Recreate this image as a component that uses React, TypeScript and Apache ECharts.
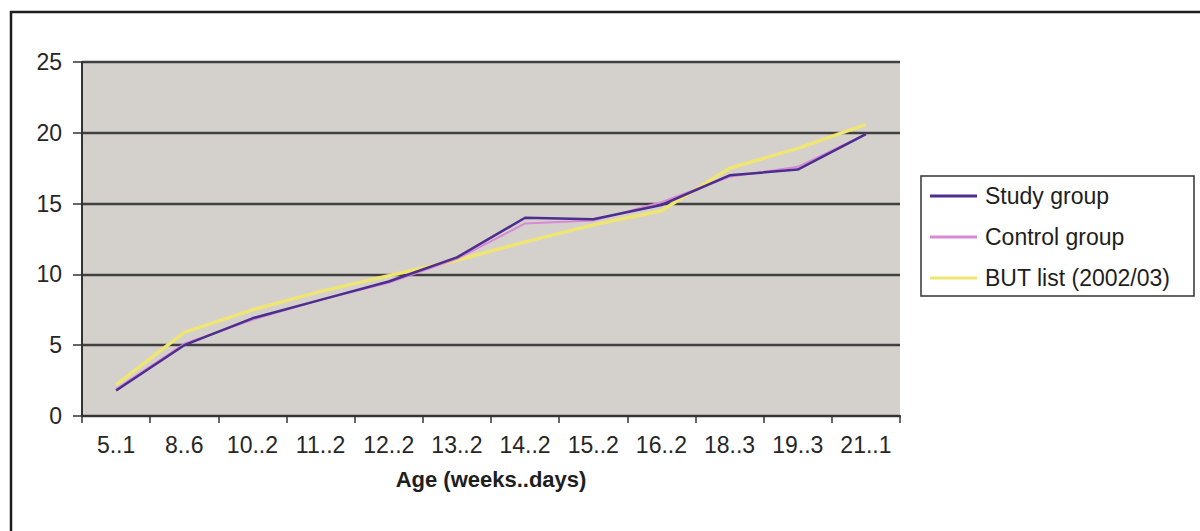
import React, { useEffect, useRef } from "react";
import * as echarts from "echarts";

// Age categories (weeks..days)
const ageLabels = [
  "5..1", "8..6", "10..2", "11..2", "12..2", "13..2",
  "14..2", "15..2", "16..2", "18..3", "19..3", "21..1",
];

const studyGroup = [1.8, 5.0, 6.9, 8.2, 9.5, 11.2, 14.0, 13.9, 14.9, 17.0, 17.4, 19.9];
const controlGroup = [1.9, 5.1, 6.8, 8.2, 9.4, 11.1, 13.6, 13.8, 15.1, 16.9, 17.6, 19.9];
const butList = [2.2, 5.9, 7.5, 8.8, 9.9, 11.0, 12.3, 13.5, 14.5, 17.5, 18.9, 20.6];

const seriesNames = ["Study group", "Control group", "BUT list (2002/03)"];
const yTicks = { min: 0, max: 25, interval: 5 };

const FONT = "'Liberation Sans', Arial, sans-serif";

export default function App() {
  const ref = useRef<HTMLDivElement>(null);

  useEffect(() => {
    if (!ref.current) return;
    const chart = echarts.init(ref.current, undefined, { renderer: "svg" });
    chart.setOption({
      animation: false,
      backgroundColor: "#ffffff",
      textStyle: { fontFamily: FONT },
      grid: {
        left: 82,
        right: 300,
        top: 62,
        bottom: 115,
        show: true,
        backgroundColor: "#d4d1cd",
        borderWidth: 0,
      },
      legend: {
        orient: "vertical",
        left: 930,
        top: 184,
        padding: 0,
        itemWidth: 47,
        itemHeight: 3,
        itemGap: 17,
        icon: "rect",
        textStyle: { fontFamily: FONT, fontSize: 23, color: "#1e1e1e", lineHeight: 24, padding: [0, 0, 0, 3] },
        data: seriesNames,
      },
      xAxis: {
        type: "category",
        data: ageLabels,
        boundaryGap: true,
        name: "Age (weeks..days)",
        nameLocation: "middle",
        nameGap: 52,
        nameTextStyle: { fontFamily: FONT, fontSize: 22, fontWeight: "bold", color: "#1e1e1e" },
        axisLine: { show: true, lineStyle: { color: "#333", width: 2 } },
        axisTick: { show: true, length: 7, lineStyle: { color: "#333", width: 1.5 } },
        axisLabel: { fontFamily: FONT, fontSize: 23, color: "#262626", margin: 17, interval: 0 },
        splitLine: { show: false },
      },
      yAxis: {
        type: "value",
        min: yTicks.min,
        max: yTicks.max,
        interval: yTicks.interval,
        axisLine: { show: true, lineStyle: { color: "#333", width: 2 } },
        axisTick: { show: true, length: 9, lineStyle: { color: "#333", width: 1.5 } },
        axisLabel: { fontFamily: FONT, fontSize: 23, color: "#262626", margin: 20 },
        splitLine: { show: true, lineStyle: { color: "#404040", width: 2.4 } },
      },
      series: [
        {
          name: seriesNames[0],
          type: "line",
          data: studyGroup,
          showSymbol: false,
          symbol: "none",
          z: 4,
          color: "#4b2e8e",
          lineStyle: { color: "#4b2e8e", width: 2.5 },
        },
        {
          name: seriesNames[1],
          type: "line",
          data: controlGroup,
          showSymbol: false,
          symbol: "none",
          z: 3,
          color: "#d98ad6",
          lineStyle: { color: "#d98ad6", width: 2 },
        },
        {
          name: seriesNames[2],
          type: "line",
          data: butList,
          showSymbol: false,
          symbol: "none",
          z: 2,
          color: "#efe573",
          lineStyle: { color: "#efe573", width: 3.5 },
        },
      ],
      graphic: [
        {
          type: "rect",
          shape: { x: 11, y: 12, width: 1220, height: 560 },
          style: { fill: "none", stroke: "#1e1e1e", lineWidth: 2.5 },
          silent: true,
          z: 0,
        },
        {
          type: "rect",
          shape: { x: 921, y: 176, width: 273, height: 120 },
          style: { fill: "none", stroke: "#333", lineWidth: 1.5 },
          silent: true,
        },
      ],
    });
    return () => chart.dispose();
  }, []);

  return (
    <div
      ref={ref}
      style={{ position: "absolute", left: 0, top: 0, width: 1200, height: 531 }}
    />
  );
}
